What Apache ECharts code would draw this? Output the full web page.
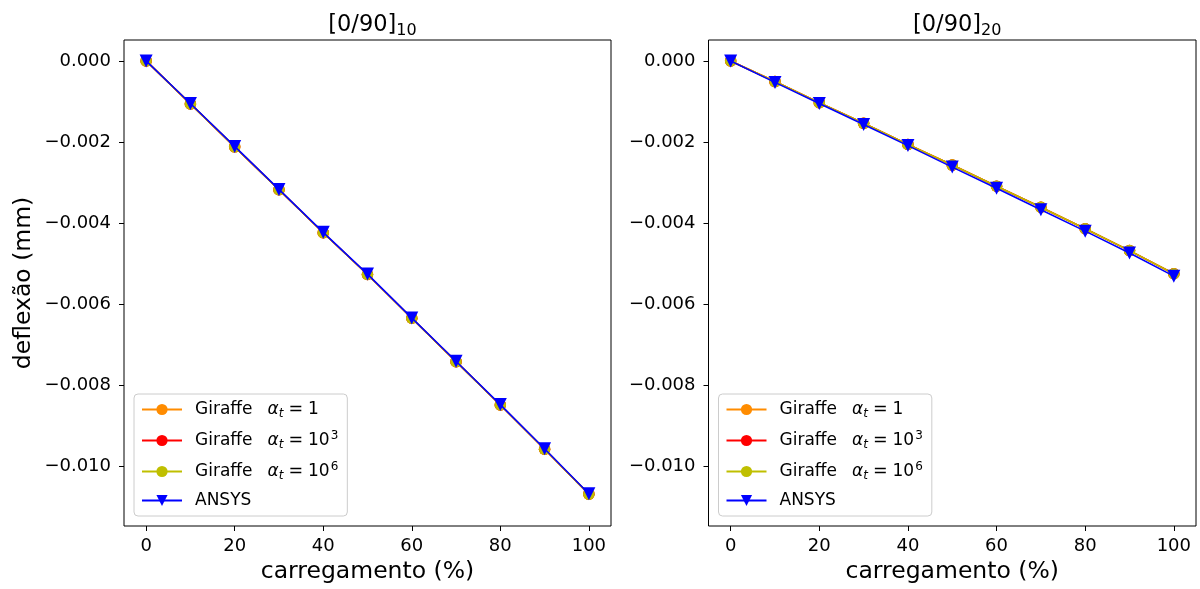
<!DOCTYPE html>
<html><head><meta charset="utf-8">
<script src="https://cdn.jsdelivr.net/npm/echarts@6/dist/echarts.min.js"></script>
<style>html,body{margin:0;padding:0;background:#fff}#c{width:1200px;height:589px}</style>
</head><body><div id="c"></div>
<script>
// ---- data ----
const carregamento = [0, 10, 20, 30, 40, 50, 60, 70, 80, 90, 100];
const left_giraffe1 = [0, -0.00106, -0.00212, -0.00318, -0.00424, -0.00527, -0.00635, -0.00742, -0.00849, -0.00958, -0.01069];
const left_giraffe3 = [0, -0.00106, -0.00212, -0.00318, -0.00424, -0.00527, -0.00635, -0.00742, -0.00849, -0.00958, -0.01069];
const left_giraffe6 = [0, -0.00106, -0.00212, -0.00318, -0.00424, -0.00527, -0.00635, -0.00742, -0.00849, -0.00958, -0.01069];
const left_ansys    = [0, -0.00105, -0.00211, -0.00317, -0.00423, -0.00526, -0.00634, -0.00741, -0.00848, -0.00957, -0.01068];
const right_giraffe1 = [0, -0.00051, -0.00103, -0.00154, -0.00206, -0.00257, -0.00309, -0.00361, -0.00414, -0.00468, -0.00525];
const right_giraffe3 = [0, -0.00051, -0.00103, -0.00154, -0.00206, -0.00257, -0.00309, -0.00361, -0.00414, -0.00468, -0.00525];
const right_giraffe6 = [0, -0.00051, -0.00103, -0.00154, -0.00206, -0.00257, -0.00309, -0.00361, -0.00414, -0.00468, -0.00525];
const right_ansys    = [0, -0.00053, -0.00105, -0.00157, -0.00209, -0.00262, -0.00314, -0.00367, -0.00420, -0.00474, -0.00531];
const xTicks = [0, 20, 40, 60, 80, 100];
const yTicks = [0, -0.002, -0.004, -0.006, -0.008, -0.010];
const seriesNames = ['g1', 'g3', 'g6', 'ansys'];
const legendLabels = {
  g1: '{n|Giraffe}{i|α}{s|t}{e|=}{n|1}',
  g3: '{n|Giraffe}{i|α}{s|t}{e|=}{n|10}{p|3}',
  g6: '{n|Giraffe}{i|α}{s|t}{e|=}{n|10}{p|6}',
  ansys: '{n|ANSYS}'
};
const titles = ['{a|[0/90]}{b|10}', '{a|[0/90]}{b|20}'];
// ---- styles ----
const FONT = 'DejaVu Sans';
const colors = { g1: '#ff8c00', g3: '#ff0000', g6: '#bfbf00', ansys: '#0000ff' };
const fmtY = v => (Math.abs(v) < 1e-12 ? '0.000' : v.toFixed(3).replace('-', '\u2212'));

const grids = [
  { left: 124, top: 40, width: 487, height: 488 },
  { left: 708.5, top: 40, width: 487.5, height: 488 }
];
const panelData = [
  [left_giraffe1, left_giraffe3, left_giraffe6, left_ansys],
  [right_giraffe1, right_giraffe3, right_giraffe6, right_ansys]
];

const richLegend = {
  n: { fontFamily: FONT, fontSize: 17, color: '#000', lineHeight: 20 },
  e: { fontFamily: FONT, fontSize: 17.5, color: '#000', lineHeight: 20, padding: [0, 5, 0, 5] },
  i: { fontFamily: FONT, fontSize: 17, fontStyle: 'italic', color: '#000', lineHeight: 20, padding: [0, 0, 0, 15] },
  s: { fontFamily: FONT, fontSize: 12, fontStyle: 'italic', color: '#000', lineHeight: 12, padding: [9, 0, 0, 0] },
  p: { fontFamily: FONT, fontSize: 12, color: '#000', lineHeight: 12, padding: [0, 0, 9, 1] }
};

const option = {
  animation: false,
  backgroundColor: '#fff',
  title: grids.map((g, k) => ({
    text: titles[k],
    left: g.left + g.width / 2,
    top: 6,
    textAlign: 'center',
    textStyle: {
      fontWeight: 'normal',
      rich: {
        a: { fontFamily: FONT, fontSize: 22.5, fontWeight: 'normal', color: '#000', lineHeight: 28 },
        b: { fontFamily: FONT, fontSize: 16, fontWeight: 'normal', color: '#000', lineHeight: 16, padding: [12, 0, 0, 0] }
      }
    }
  })),
  grid: grids.map(g => Object.assign({ show: true, borderColor: '#000', borderWidth: 1, backgroundColor: 'transparent' }, g)),
  legend: grids.map(g => ({
    orient: 'vertical',
    left: g.left + 10,
    top: 394,
    data: seriesNames,
    formatter: n => legendLabels[n],
    itemWidth: 40,
    itemHeight: 14,
    itemGap: 10,
    padding: [5, 9, 7, 7],
    backgroundColor: 'rgba(255,255,255,0.8)',
    borderColor: '#cccccc',
    borderWidth: 1,
    borderRadius: 4,
    textStyle: { rich: richLegend, padding: [0, 0, 0, 8] }
  })),
  xAxis: grids.map((g, k) => ({
    type: 'value', gridIndex: k, min: -5, max: 105,
    name: 'carregamento (%)', nameLocation: 'middle', nameGap: 34,
    nameTextStyle: { fontFamily: FONT, fontSize: 23.5, color: '#000' },
    axisLine: { show: false, onZero: false },
    axisTick: { show: true, inside: false, length: 5, lineStyle: { color: '#000', width: 1 }, customValues: xTicks },
    axisLabel: { fontFamily: FONT, fontSize: 18, color: '#000', margin: 11, customValues: xTicks },
    splitLine: { show: false }
  })),
  yAxis: grids.map((g, k) => ({
    type: 'value', gridIndex: k, min: -0.011475, max: 0.000516,
    name: k === 0 ? 'deflexão (mm)' : '', nameLocation: 'middle', nameGap: 88,
    nameTextStyle: { fontFamily: FONT, fontSize: 23.5, color: '#000' },
    axisLine: { show: false, onZero: false },
    axisTick: { show: true, inside: false, length: 5, lineStyle: { color: '#000', width: 1 }, customValues: yTicks },
    axisLabel: { fontFamily: FONT, fontSize: 18, color: '#000', margin: 13, customValues: yTicks, formatter: fmtY },
    splitLine: { show: false }
  })),
  series: []
};

panelData.forEach((arrs, k) => {
  arrs.forEach((vals, j) => {
    const nm = seriesNames[j];
    const isAnsys = nm === 'ansys';
    option.series.push({
      name: nm,
      type: 'line',
      xAxisIndex: k, yAxisIndex: k,
      data: carregamento.map((x, i) => [x, vals[i]]),
      symbol: isAnsys ? 'triangle' : 'circle',
      symbolRotate: isAnsys ? 180 : 0,
      symbolSize: isAnsys ? 13 : 11.5,
      showAllSymbol: true,
      lineStyle: { color: colors[nm], width: 1.6 },
      itemStyle: { color: colors[nm], borderWidth: 0 },
      emphasis: { disabled: true },
      z: 2 + j
    });
  });
});

const chart = echarts.init(document.getElementById('c'), null, { renderer: 'canvas' });
chart.setOption(option);
</script></body></html>
